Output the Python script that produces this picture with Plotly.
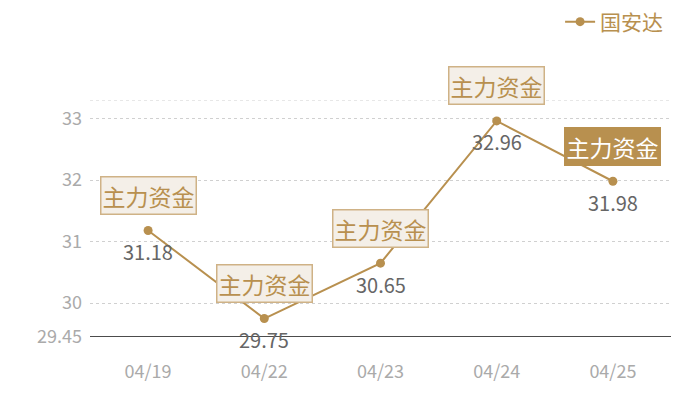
import plotly.graph_objects as go

# --- data ---
dates = ['04/19', '04/22', '04/23', '04/24', '04/25']
prices = [31.18, 29.75, 30.65, 32.96, 31.98]
flow_label = '主力资金'
series_name = '国安达'
y_ticks = [29.45, 30, 31, 32, 33]
y_tick_text = ['29.45', '30', '31', '32', '33']
y_top = 33.3

GOLD = '#b8904f'
FONT = 'Noto Sans CJK SC'

fig = go.Figure()
fig.add_scatter(
    x=dates, y=prices, name=series_name, mode='lines+markers',
    line=dict(color=GOLD, width=2),
    marker=dict(color=GOLD, size=9),
)

# value labels under each point, flow tags above
for i, (d, p) in enumerate(zip(dates, prices)):
    fig.add_annotation(
        x=d, y=p, xref='x', yref='y', text=f'{p:.2f}', showarrow=False,
        yshift=-21, font=dict(family=FONT, size=20, color='#666666'),
    )
    last = i == len(dates) - 1
    fig.add_annotation(
        x=d, y=p, xref='x', yref='y', text=flow_label, showarrow=False,
        yshift=35,
        font=dict(family=FONT, size=23, color='white' if last else GOLD),
        bgcolor=GOLD if last else '#f4efe8',
        bordercolor=GOLD if last else '#cfb286',
        borderwidth=1.5, borderpad=1,
    )

# page body adds ~8px offset, so margins are shifted to compensate
fig.update_layout(
    width=700, height=400,
    margin=dict(l=82, r=37, t=92, b=71),
    paper_bgcolor='white', plot_bgcolor='white',
    font=dict(family=FONT),
    showlegend=True,
    legend=dict(
        x=0.995, xanchor='right', y=0.965, yref='container', yanchor='middle',
        font=dict(size=21, color=GOLD),
        bgcolor='rgba(0,0,0,0)',
    ),
    xaxis=dict(
        type='category', range=[-0.5, 4.5],
        showgrid=False, showline=False, zeroline=False,
        ticks='', tickfont=dict(size=18, color='#aaaaaa'),
        ticklabelstandoff=22,
    ),
    yaxis=dict(
        range=[29.45, y_top], tickvals=y_ticks, ticktext=y_tick_text,
        showgrid=True, gridcolor='#d0d0d0', griddash='dot', gridwidth=1,
        zeroline=False, showline=False,
        tickfont=dict(size=18, color='#aaaaaa'), ticks='',
        ticklabelstandoff=7,
    ),
)

# top dotted gridline and dark baseline
fig.add_shape(type='line', xref='paper', yref='y', x0=0, x1=1,
              y0=y_top, y1=y_top, line=dict(color='#d0d0d0', width=1, dash='dot'))
fig.add_shape(type='line', xref='paper', yref='y', x0=0, x1=1,
              y0=29.45, y1=29.45, line=dict(color='#111111', width=1.3))

fig.write_html("out.html")
